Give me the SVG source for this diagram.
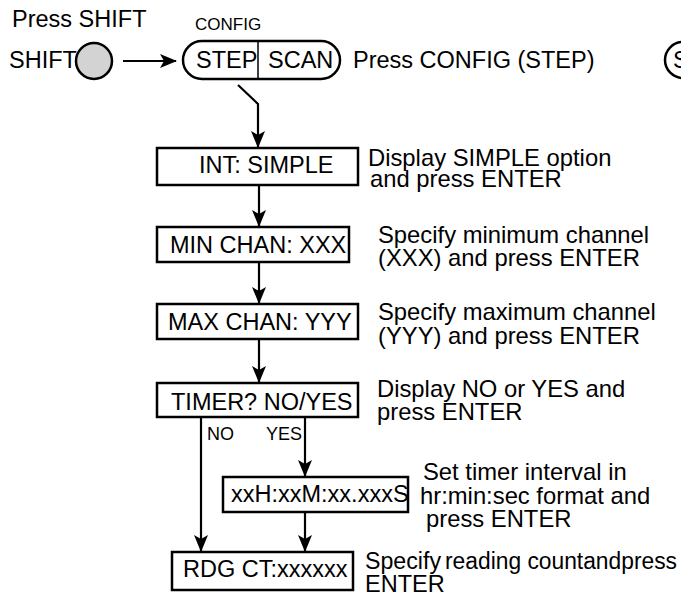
<svg xmlns="http://www.w3.org/2000/svg" width="681" height="596" viewBox="0 0 681 596">
<style>
text{font-family:"Liberation Sans",Arial,sans-serif;font-size:23.5px;fill:#000}
.d{font-size:23.8px}
.box{fill:#fff;stroke:#000;stroke-width:2.5}
.ln{fill:none;stroke:#000;stroke-width:2.2}
.sm{font-size:17px}
.lb{font-size:18px}
</style>
<defs>
<marker id="ah" markerUnits="userSpaceOnUse" markerWidth="18" markerHeight="14" refX="16" refY="7" orient="auto">
<path d="M0,0 L17,7 L0,14 L4,7 z" fill="#000"/>
</marker>
</defs>
<rect width="681" height="596" fill="#fff"/>
<g id="labels">
<text x="12" y="27">Press SHIFT</text>
<text class="sm" x="195" y="30">CONFIG</text>
<text x="353" y="68">Press CONFIG (STEP)</text>
<text class="d" x="368" y="166">Display SIMPLE option</text>
<text class="d" x="370" y="187">and press ENTER</text>
<text class="d" x="378" y="243">Specify minimum channel</text>
<text class="d" x="378" y="266">(XXX) and press ENTER</text>
<text class="d" x="378" y="320">Specify maximum channel</text>
<text class="d" x="378" y="344">(YYY) and press ENTER</text>
<text class="d" x="377" y="397">Display NO or YES and</text>
<text class="d" x="377" y="420">press ENTER</text>
<text class="d" x="423" y="480">Set timer interval in</text>
<text class="d" x="420" y="504">hr:min:sec format and</text>
<text class="d" x="426" y="527">press ENTER</text>
<text x="365" y="569" textLength="76" lengthAdjust="spacingAndGlyphs">Specify</text>
<text x="445" y="569" textLength="232" lengthAdjust="spacingAndGlyphs">reading countandpress</text>
<text x="365" y="592">ENTER</text>
</g>
<g id="shift">
<text x="9" y="68">SHIFT</text>
<circle cx="94" cy="61" r="18" fill="#d3d3d3" stroke="#000" stroke-width="2.5"/>
</g>
<g id="config">
<rect x="183" y="41" width="157" height="38" rx="19" class="box"/>
<line x1="258" y1="41" x2="258" y2="79" stroke="#000" stroke-width="1.5"/>
<text x="196" y="68">STEP</text>
<text x="268" y="68">SCAN</text>
</g>
<g id="partial">
<rect x="665" y="42" width="60" height="36" rx="18" class="box"/>
<text x="673" y="68">S</text>
</g>
<g id="int">
<rect x="157" y="148" width="201" height="37" class="box"/>
<text x="199" y="173">INT: SIMPLE</text>
</g>
<g id="min">
<rect x="157" y="227" width="192" height="35" class="box"/>
<text x="170" y="253">MIN CHAN: XXX</text>
</g>
<g id="max">
<rect x="157" y="304" width="201" height="35" class="box"/>
<text x="168" y="330">MAX CHAN: YYY</text>
</g>
<g id="timer">
<rect x="157" y="383" width="201" height="34" class="box"/>
<text x="171" y="410">TIMER? NO/YES</text>
</g>
<g id="interval">
<rect x="223" y="477" width="185" height="35" class="box"/>
<text x="231" y="502">xxH:xxM:xx.xxxS</text>
</g>
<g id="rdg">
<rect x="172" y="552" width="181" height="38" class="box"/>
<text x="183" y="577">RDG CT:xxxxxx</text>
</g>
<g id="connectors">
<line class="ln" x1="123" y1="61" x2="176" y2="61" marker-end="url(#ah)"/>
<polyline class="ln" points="238,85 258,104 258,147" marker-end="url(#ah)"/>
<line class="ln" x1="259" y1="185" x2="259" y2="226" marker-end="url(#ah)"/>
<line class="ln" x1="259" y1="262" x2="259" y2="303" marker-end="url(#ah)"/>
<line class="ln" x1="259" y1="339" x2="259" y2="382" marker-end="url(#ah)"/>
<line class="ln" x1="201" y1="417" x2="201" y2="551" marker-end="url(#ah)"/>
<line class="ln" x1="305" y1="417" x2="305" y2="476" marker-end="url(#ah)"/>
<line class="ln" x1="305" y1="512" x2="305" y2="551" marker-end="url(#ah)"/>
<text class="lb" x="207" y="440">NO</text>
<text class="lb" x="266" y="440">YES</text>
</g>
</svg>
